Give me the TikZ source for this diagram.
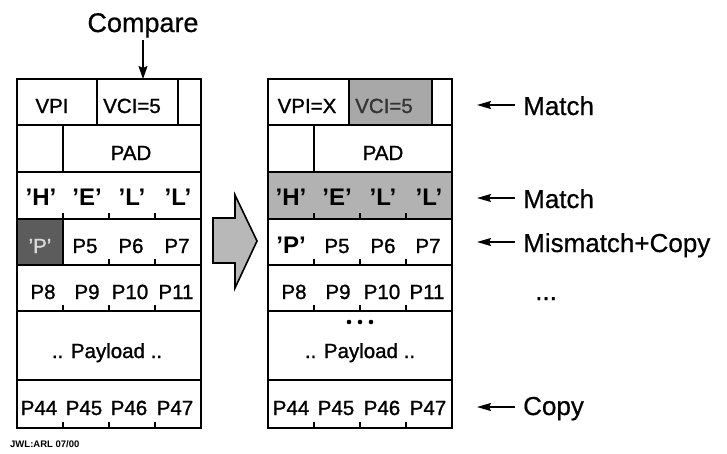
\documentclass[tikz,border=0pt]{standalone}
\usepackage{fontspec}
\setmainfont{Liberation Sans}
\newfontfamily\heavyfont[FakeBold=1.2]{Liberation Sans}
\newfontfamily\medfont[FakeBold=0.6]{Liberation Sans}
\usetikzlibrary{arrows.meta}
\definecolor{cellgray}{gray}{0.66}
\definecolor{rowgray}{gray}{0.70}
\definecolor{darkcell}{gray}{0.36}
\definecolor{arrowgray}{gray}{0.72}
\begin{document}
\begin{tikzpicture}[x=1pt,y=-1pt,
  tline/.style={line width=1.7pt},
  tick/.style={line width=1.1pt},
  txt/.style={inner sep=0pt, anchor=base, font=\heavyfont\fontsize{20.5}{24}\selectfont},
  qtxt/.style={inner sep=0pt, anchor=base, font=\bfseries\fontsize{24}{28}\selectfont},
  lbl/.style={inner sep=0pt, anchor=base west, font=\medfont\fontsize{26}{30}\selectfont},
  larrow/.style={line width=1.6pt, -{Stealth[length=14pt,width=8pt,inset=2pt]}}
]
\useasboundingbox (0,0) rectangle (727,453);

% ---------- Compare ----------
\node[inner sep=0pt, anchor=base, font=\medfont\fontsize{27}{30}\selectfont] (cmp) at (143,32) {Compare};
\coordinate (cmpend) at (143,79);
\draw[line width=1.6pt, -{Stealth[length=13pt,width=9pt,inset=2pt]}] (143,40) -- (cmpend);

% ---------- Left table ----------
\fill[darkcell] (17,219) rectangle (63,265);
\draw[tline] (17,79) rectangle (201,428);
\foreach \yy in {125,172,219,265,311,380} \draw[tline] (17,\yy) -- (201,\yy);
\draw[tline] (97,79) -- (97,125);
\draw[tline] (178,79) -- (178,125);
\draw[tline] (63,125) -- (63,172);
\draw[tline] (63,219) -- (63,265);
\foreach \xx in {63,109,155} {
  \draw[tick] (\xx,219) -- (\xx,213);
  \draw[tick] (\xx,311) -- (\xx,305);
  \draw[tick] (\xx,428) -- (\xx,422);
}
\foreach \xx in {109,155} \draw[tick] (\xx,265) -- (\xx,259);

\node[txt] (lvpi) at (52,113) {VPI};
\node[txt] (lvci) at (132,113) {VCI=5};
\node[txt] (lpad) at (131,160) {PAD};
\node[qtxt] (lh) at (41,205) {’H’};
\node[qtxt] (le) at (87,205) {’E’};
\node[qtxt] (ll1) at (132,205) {’L’};
\node[qtxt] (ll2) at (178,205) {’L’};
\node[txt, text=white!85!black] (lp) at (40,253) {’P’};
\node[txt] (lp5) at (85,253) {P5};
\node[txt] (lp6) at (131,253) {P6};
\node[txt] (lp7) at (177,253) {P7};
\node[txt] (lp8) at (43,299) {P8};
\node[txt] (lp9) at (87,299) {P9};
\node[txt] (lp10) at (130,299) {P10};
\node[txt] (lp11) at (176,299) {P11};
\node[txt] (lpay) at (107,358) {.. Payload ..};
\node[txt] (lp44) at (39,415) {P44};
\node[txt] (lp45) at (84,415) {P45};
\node[txt] (lp46) at (129,415) {P46};
\node[txt] (lp47) at (175,415) {P47};

% ---------- Big arrow ----------
\draw[line width=1.6pt, fill=arrowgray, line join=miter]
  (213,218) -- (235,218) -- (235,195) -- (257,241) -- (235,288) -- (235,263) -- (213,263) -- cycle;

% ---------- Right table ----------
\fill[cellgray] (349,79) rectangle (432,125);
\fill[rowgray] (268,172) rectangle (452,219);
\draw[tline] (268,79) rectangle (452,428);
\foreach \yy in {125,172,219,265,311,380} \draw[tline] (268,\yy) -- (452,\yy);
\draw[tline] (349,79) -- (349,125);
\draw[tline] (432,79) -- (432,125);
\draw[tline] (314,125) -- (314,172);
\foreach \xx in {314,360,406} {
  \draw[tick] (\xx,219) -- (\xx,213);
  \draw[tick] (\xx,265) -- (\xx,259);
  \draw[tick] (\xx,311) -- (\xx,305);
  \draw[tick] (\xx,428) -- (\xx,422);
}

\node[txt] (rvpi) at (307,113) {VPI=X};
\node[txt, text=black!80] (rvci) at (384,113) {VCI=5};
\node[txt] (rpad) at (383,160) {PAD};
\node[qtxt] (rh) at (291,205) {’H’};
\node[qtxt] (re) at (337,205) {’E’};
\node[qtxt] (rl1) at (383,205) {’L’};
\node[qtxt] (rl2) at (429,205) {’L’};
\node[qtxt] (rp) at (291,253) {’P’};
\node[txt] (rp5) at (337,253) {P5};
\node[txt] (rp6) at (383,253) {P6};
\node[txt] (rp7) at (428,253) {P7};
\node[txt] (rp8) at (294,299) {P8};
\node[txt] (rp9) at (338,299) {P9};
\node[txt] (rp10) at (382,299) {P10};
\node[txt] (rp11) at (427,299) {P11};
\foreach \xx in {349,360,371} \fill (\xx,322) circle (2.3pt);
\node[txt] (rpay) at (360,358) {.. Payload ..};
\node[txt] (rp44) at (291,415) {P44};
\node[txt] (rp45) at (336,415) {P45};
\node[txt] (rp46) at (382,415) {P46};
\node[txt] (rp47) at (428,415) {P47};

% ---------- Right labels ----------
\node[lbl] (m1) at (523,115) {Match};
\node[lbl] (m2) at (523,208) {Match};
\node[lbl] (m3) at (523,252) {Mismatch+Copy};
\node[lbl] (m4) at (535,300) {...};
\node[lbl] (m5) at (523,415) {Copy};
\coordinate (a1) at (477,105);
\coordinate (a2) at (477,198);
\coordinate (a3) at (477,242);
\coordinate (a5) at (477,407);
\draw[larrow] (515,105) -- (a1);
\draw[larrow] (515,198) -- (a2);
\draw[larrow] (515,242) -- (a3);
\draw[larrow] (515,407) -- (a5);

% ---------- Footer ----------
\node[inner sep=0pt, anchor=base west, font=\fontsize{9.5}{11}\bfseries] (foot) at (10,447) {JWL:ARL 07/00};
\end{tikzpicture}
\end{document}
